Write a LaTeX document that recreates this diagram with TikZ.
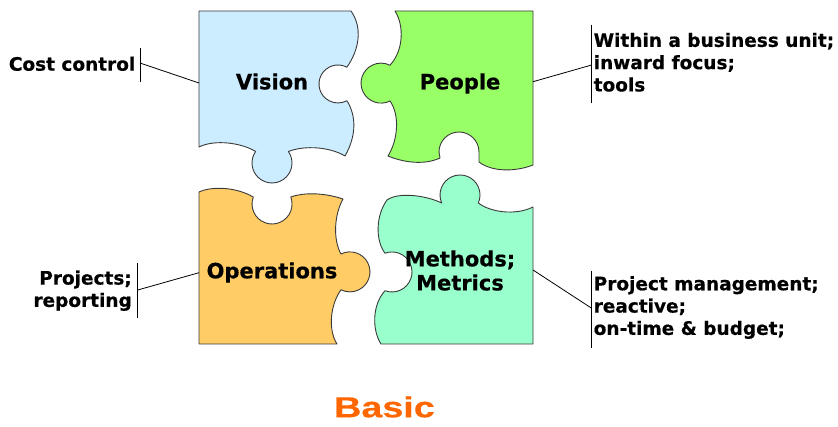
\documentclass[tikz,border=0pt]{standalone}
\usepackage{fontspec}
\usepackage{graphicx}
\setmainfont{DejaVu Sans}[BoldFeatures={FakeBold=0.5}]
\newfontfamily\basicfont{Liberation Sans}[BoldFeatures={FakeBold=0.3}]
\definecolor{vis}{HTML}{CCECFF}
\definecolor{peo}{HTML}{99FF66}
\definecolor{ope}{HTML}{FFCC66}
\definecolor{met}{HTML}{99FFCC}
\definecolor{edgegray}{HTML}{3A3A3A}
\definecolor{basicor}{HTML}{FF6600}
\begin{document}
\begin{tikzpicture}[x=1pt,y=-1pt,
  piece/.style={draw=edgegray, line width=0.9pt, line join=round},
  title/.style={font=\fontsize{21}{24}\selectfont\bfseries, align=center, inner sep=0pt},
  callout/.style={font=\fontsize{18.5}{22.3}\selectfont\bfseries, inner sep=0pt},
  lead/.style={draw=black, line width=0.8pt}]
\useasboundingbox (0,0) rectangle (838,427);

% Vision piece
\path[piece, fill=vis] (199,11) -- (351,11)
  .. controls (363,28) and (359,50) .. (346.9,67.2)
  arc[start angle=-62, end angle=-298, radius=19]
  .. controls (356,115) and (357,135) .. (345,156)
  .. controls (330,147) and (305,145) .. (288.4,151.5)
  arc[start angle=-35, end angle=215, radius=20]
  .. controls (242,143) and (215,139) .. (199,147) -- cycle;

% People piece
\path[piece, fill=peo] (395,11) -- (533,11) -- (533,165)
  .. controls (515,172) and (492,172) .. (479,162) -- (479,152)
  arc[start angle=0, end angle=-180, radius=20] -- (440,158)
  .. controls (425,165) and (405,163) .. (388,156)
  .. controls (398,140) and (400,115) .. (390,101)
  arc[start angle=63.4, end angle=296.6, radius=20]
  .. controls (404,50) and (404,25) .. (395,11) -- cycle;

% Operations piece
\path[piece, fill=ope] (199,192)
  .. controls (212,186) and (236,187) .. (253.3,197)
  arc[start angle=200.5, end angle=-20.5, radius=20]
  .. controls (305,192) and (325,193) .. (343,199)
  .. controls (334,215) and (333,240) .. (341,254)
  arc[start angle=-116.6, end angle=116.6, radius=20]
  .. controls (330,305) and (328,330) .. (337,344) -- (199,344) -- cycle;

% Methods piece
\path[piece, fill=met] (387,200)
  .. controls (398,192) and (425,195) .. (441.7,203)
  arc[start angle=156.4, end angle=383.6, radius=20]
  .. controls (490,212) and (515,216) .. (533,207) -- (533,344) -- (381,344)
  .. controls (372,330) and (372,305) .. (385,290.7)
  arc[start angle=110.5, end angle=-110.5, radius=20]
  .. controls (375,240) and (376,215) .. (387,200) -- cycle;

% titles
\node[title, anchor=base] (vision) at (272,89.3) {Vision};
\node[title, anchor=base] (people) at (460,89.3) {People};
\node[title, anchor=base] (ops) at (272,278.3) {Operations};
\node[title] (methods) at (460,270.5) {Methods;\\Metrics};

% callouts
\node[callout, anchor=base east] (cost) at (135.5,70.7) {Cost control};
\node[callout, align=left, anchor=north west] (within) at (593.5,32.6) {Within a business unit;\\inward focus;\\tools};
\node[callout, align=right, anchor=north east] (projects) at (132,270.3) {Projects;\\reporting};
\node[callout, align=left, anchor=north west] (projmgmt) at (593.5,276) {Project management;\\reactive;\\on-time \& budget;};

% brackets and leaders
\coordinate (c1t) at (140,48);  \coordinate (c1b) at (140,82);  \coordinate (c1m) at (140,63);  \coordinate (c1p) at (199,83);
\coordinate (c2t) at (591.7,25); \coordinate (c2b) at (591.7,103); \coordinate (c2m) at (591.7,65); \coordinate (c2p) at (533,81.7);
\coordinate (c3t) at (137.7,262.7); \coordinate (c3b) at (137.7,318.3); \coordinate (c3m) at (137.7,290); \coordinate (c3p) at (199,272.7);
\coordinate (c4t) at (591.7,270.7); \coordinate (c4b) at (591.7,348.3); \coordinate (c4m) at (591.7,308.3); \coordinate (c4p) at (533,270);
\draw[lead] (c1t) -- (c1b); \draw[lead] (c1m) -- (c1p);
\draw[lead] (c2t) -- (c2b); \draw[lead] (c2m) -- (c2p);
\draw[lead] (c3t) -- (c3b); \draw[lead] (c3m) -- (c3p);
\draw[lead] (c4t) -- (c4b); \draw[lead] (c4m) -- (c4p);

% caption
\node[font=\basicfont\fontsize{29}{32}\selectfont\bfseries, text=basicor, anchor=base, inner sep=0pt] (basic) at (384.5,417.3) {\scalebox{1.3}[1]{Basic}};
\end{tikzpicture}
\end{document}
